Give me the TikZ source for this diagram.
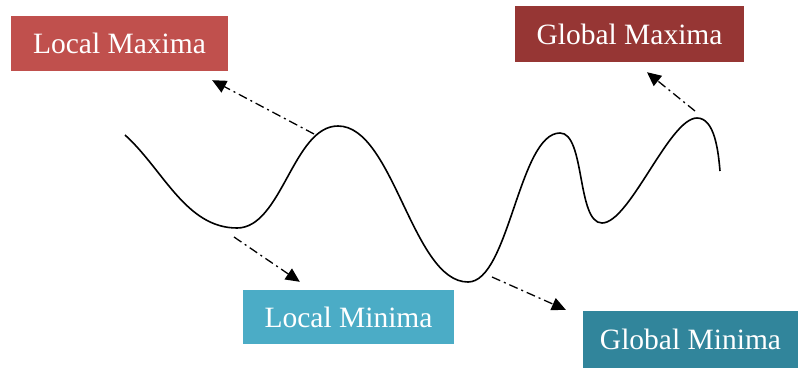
\documentclass[tikz,border=0pt]{standalone}
\usepackage{fontspec}
\setmainfont{Liberation Serif}
\usetikzlibrary{calc, positioning}
\usetikzlibrary{arrows.meta}

\definecolor{maxred}{RGB}{192,80,77}
\definecolor{maxdark}{RGB}{150,54,52}
\definecolor{minblue}{RGB}{75,172,198}
\definecolor{mindark}{RGB}{49,133,155}

\begin{document}
\begin{tikzpicture}[x=1pt,y=1pt,
    labelbox/.style={text=white,inner sep=0pt,
        font=\fontsize{29.5}{32}\selectfont},
    pointer/.style={line width=1.3pt,black,dash pattern=on 9pt off 4pt on 2pt off 4pt,
        -{Triangle[length=14pt,width=13pt]}}]
\useasboundingbox (0,0) rectangle (798,368);

% Extremes of the curve
\coordinate (Start) at (125,233);
\coordinate (Min1) at (237,140);
\coordinate (Max1) at (338,242);
\coordinate (Min2) at (468,86);
\coordinate (Max2) at (560,235);
\coordinate (Min3) at (602,145);
\coordinate (Max3) at (697,250);
\coordinate (End) at (720,197);

% The curve
\draw[line width=1.6pt,black] (Start) to[out=-42,in=180,looseness=0.9] (Min1)
    to[out=0,in=180,looseness=0.8] (Max1)
    to[out=0,in=180,looseness=0.7] (Min2)
    to[out=0,in=180,looseness=0.6] (Max2)
    to[out=0,in=180,looseness=0.65] (Min3)
    to[out=0,in=180,looseness=0.5] (Max3)
    to[out=0,in=95,looseness=0.8] (End);

% Labels
\node[labelbox,fill=maxred,minimum width=217pt,minimum height=55pt]
    (lmax) at (119.5,324.5) {Local Maxima};
\node[labelbox,fill=maxdark,minimum width=229pt,minimum height=56pt]
    (gmax) at (629.5,334) {Global Maxima};
\node[labelbox,fill=minblue,minimum width=211pt,minimum height=54pt]
    (lmin) at (348.5,51) {Local Minima};
\node[labelbox,fill=mindark,minimum width=215pt,minimum height=57pt]
    (gmin) at (690.5,28.5) {Global Minima};

% Pointers from the curve to the labels
\coordinate (lmaxfoot) at (314,234);
\coordinate (gmaxfoot) at (695,257);
\coordinate (lminfoot) at (234,131);
\coordinate (gminfoot) at (492,91);
\coordinate (lmaxtip) at ([shift={(-16,-9)}]lmax.south east);
\coordinate (gmaxtip) at ([shift={(17.5,-10)}]gmax.south);
\coordinate (lmintip) at ([shift={(57,8)}]lmin.north west);
\coordinate (gmintip) at ([shift={(-17,1)}]gmin.north west);
\draw[pointer] (lmaxfoot) -- (lmaxtip);
\draw[pointer] (gmaxfoot) -- (gmaxtip);
\draw[pointer] (lminfoot) -- (lmintip);
\draw[pointer] (gminfoot) -- (gmintip);
\end{tikzpicture}
\end{document}
